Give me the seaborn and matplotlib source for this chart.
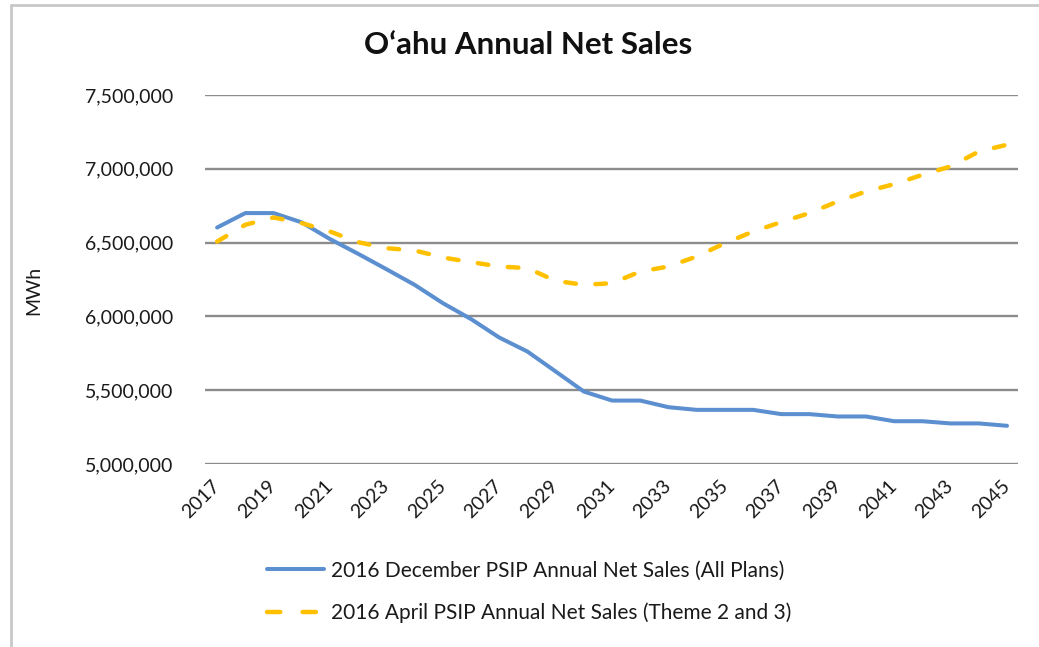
import matplotlib
matplotlib.use("Agg")
import matplotlib.pyplot as plt
import seaborn as sns
import pandas as pd
from matplotlib.lines import Line2D
from matplotlib.ticker import FuncFormatter

# --- data (MWh) ---
years = list(range(2017, 2046))
december_sales = [
    6602000, 6700000, 6700000, 6637000, 6524000, 6424000, 6320000, 6214000,
    6090000, 5982000, 5857000, 5762000, 5627000, 5491000, 5430000, 5430000,
    5385000, 5367000, 5367000, 5367000, 5338000, 5338000, 5322000, 5322000,
    5290000, 5290000, 5275000, 5275000, 5259000,
]
april_sales = [
    6507000, 6621000, 6670000, 6632000, 6575000, 6503000, 6462000, 6447000,
    6399000, 6368000, 6338000, 6327000, 6241000, 6214000, 6225000, 6304000,
    6338000, 6406000, 6496000, 6575000, 6639000, 6700000, 6779000, 6846000,
    6896000, 6959000, 7016000, 7117000, 7163000,
]
series_names = [
    "2016 December PSIP Annual Net Sales (All Plans)",
    "2016 April PSIP Annual Net Sales (Theme 2 and 3)",
]
tick_years = list(range(2017, 2046, 2))
y_ticks = [5000000, 5500000, 6000000, 6500000, 7000000, 7500000]

BLUE = "#5B8FD0"
GOLD = "#FFC000"
GRID = "#8C8C8C"
TEXT = "#1a1a1a"

sns.set_theme(style="white")
plt.rcParams["font.family"] = ["Lato", "DejaVu Sans"]

fig = plt.figure(figsize=(10.39, 6.47), dpi=100)
ax = fig.add_axes([0.1973, 0.2828, 0.7825, 0.5704])

dec_df = pd.DataFrame({"year": years, "sales": december_sales})
apr_df = pd.DataFrame({"year": years, "sales": april_sales})

# horizontal gridlines
for yv in y_ticks:
    ax.axhline(yv, color=GRID, linewidth=1.7, zorder=1)

sns.lineplot(data=dec_df, x="year", y="sales", ax=ax, color=BLUE,
             linewidth=2.9, zorder=3, label=series_names[0],
             solid_capstyle="round", solid_joinstyle="round")
sns.lineplot(data=apr_df, x="year", y="sales", ax=ax, color=GOLD,
             linewidth=3.2, zorder=4, label=series_names[1])
# dashed style for the April series
ax.lines[-1].set_dashes([2.4, 4.4])
ax.lines[-1].set_dash_capstyle("round")

ax.set_xlim(2016.57, 2045.39)
ax.set_ylim(5000000, 7500000)
ax.set_xticks(tick_years)
ax.set_xticklabels([str(y) for y in tick_years], rotation=45, ha="right",
                   va="center", rotation_mode="anchor")
ax.set_yticks(y_ticks)
ax.yaxis.set_major_formatter(FuncFormatter(lambda v, p: f"{int(v):,}"))
ax.tick_params(axis="y", length=0, pad=23, labelsize=14, labelcolor=TEXT)
ax.tick_params(axis="x", length=0, pad=14, labelsize=14, labelcolor=TEXT)

for side in ax.spines.values():
    side.set_visible(False)

ax.set_xlabel("")
ax.set_ylabel("MWh", fontsize=14, color=TEXT)
ax.yaxis.set_label_coords(-0.2, 0.47)
fig.text(0.508, 0.93, "O\u2018ahu Annual Net Sales", ha="center", va="center",
         fontsize=22.5, fontweight="bold", color="#111111")

handles, labels = ax.get_legend_handles_labels()
ax.get_legend().remove()
leg = fig.legend(handles, labels, loc="center left",
                 bbox_to_anchor=(0.239, 0.085), frameon=False, fontsize=15,
                 handlelength=2.75, handletextpad=0.3, labelspacing=1.05)
for t in leg.get_texts():
    t.set_color(TEXT)
# two clean dashes in the legend key, as in the source
leg.get_lines()[1].set_dashes([3.0, 5.0])
leg.get_lines()[1].set_dash_capstyle("round")
leg.get_lines()[0].set_solid_capstyle("round")

# light frame along the top and left, like the cropped source image
fig.add_artist(Line2D([0.0105, 1.0], [0.993, 0.993], transform=fig.transFigure,
                      color="#C8C8C8", linewidth=2))
fig.add_artist(Line2D([0.0105, 0.0105], [0.0, 0.993], transform=fig.transFigure,
                      color="#C8C8C8", linewidth=2))

fig.savefig("out.png", dpi=100)
